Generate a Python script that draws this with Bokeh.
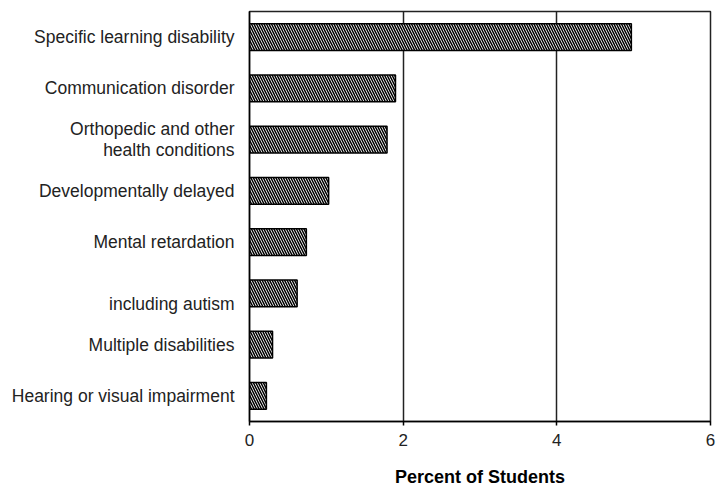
from bokeh.plotting import figure
from bokeh.models import FactorRange, Range1d, FixedTicker, ColumnDataSource
from bokeh.embed import file_html
from bokeh.resources import INLINE

categories = [
    "Specific learning disability",
    "Communication disorder",
    "Orthopedic and other\nhealth conditions",
    "Developmentally delayed",
    "Mental retardation",
    "\nincluding autism",
    "Multiple disabilities",
    "Hearing or visual impairment",
]
percent = [4.97, 1.90, 1.79, 1.03, 0.74, 0.62, 0.30, 0.22]
x_ticks = [0, 2, 4, 6]
x_label = "Percent of Students"

FONT = "Liberation Sans"

src = ColumnDataSource(dict(cat=categories, val=percent))

p = figure(
    width=717, height=489,
    y_range=FactorRange(factors=list(reversed(categories)), range_padding=0),
    x_range=Range1d(0, 6),
    output_backend="svg", toolbar_location=None,
    min_border_left=249, min_border_right=7, min_border_top=11, min_border_bottom=68,
)

p.hbar(y="cat", right="val", left=0, height=0.52, source=src,
       fill_color="white", line_color="black", line_width=1.5,
       hatch_pattern="\\", hatch_color="black", hatch_scale=5, hatch_weight=1.5)

p.outline_line_color = "#222222"
p.outline_line_width = 1.5

p.xaxis.ticker = FixedTicker(ticks=x_ticks)
p.xaxis.axis_label = x_label
p.xaxis.axis_label_text_font = FONT
p.xaxis.axis_label_text_font_style = "bold"
p.xaxis.axis_label_text_font_size = "18px"
p.xaxis.axis_label_text_color = "black"
p.xaxis.axis_label_standoff = 18
p.xaxis.major_label_text_font = FONT
p.xaxis.major_label_text_font_size = "17px"
p.xaxis.major_label_text_color = "#222222"
p.xaxis.major_label_standoff = 8
p.xaxis.major_tick_out = 4
p.xaxis.major_tick_in = 0
p.xaxis.minor_tick_line_color = None
p.xaxis.axis_line_width = 1.5
p.xaxis.major_tick_line_width = 1.5
p.xaxis.axis_line_color = "black"

p.yaxis.major_label_text_font = FONT
p.yaxis.major_label_text_font_size = "17.5px"
p.yaxis.major_label_text_line_height = 1.08
p.yaxis.major_label_text_color = "#222222"
p.yaxis.major_tick_line_color = None
p.yaxis.minor_tick_line_color = None
p.yaxis.major_label_standoff = 9
p.yaxis.axis_line_width = 1.5
p.yaxis.axis_line_color = "black"

p.ygrid.grid_line_color = None
p.xgrid.grid_line_color = "#222222"
p.xgrid.grid_line_width = 1.5
p.xgrid.ticker = FixedTicker(ticks=[2, 4])

open("out.html", "w").write(file_html(p, INLINE))
